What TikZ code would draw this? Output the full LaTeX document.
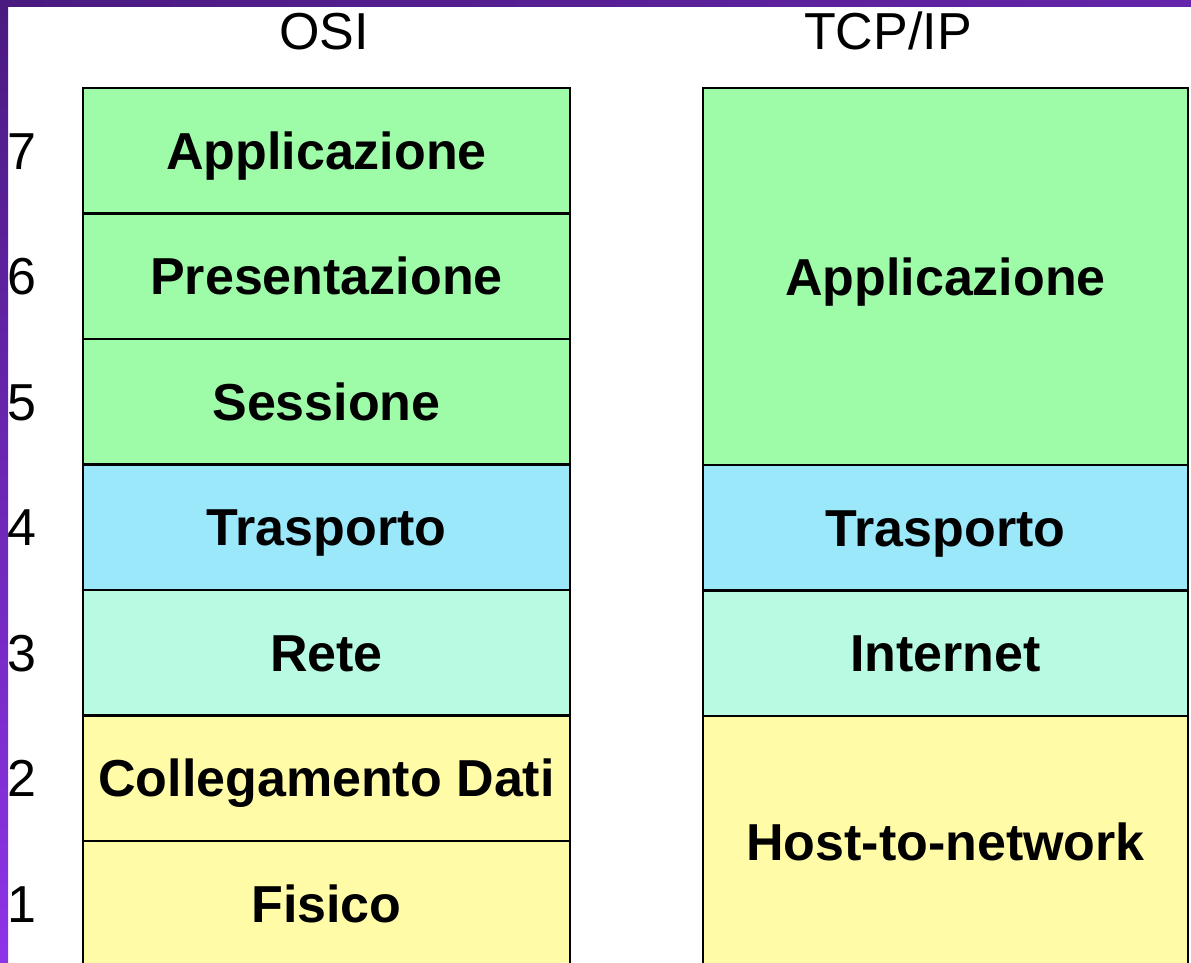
\documentclass[tikz,border=0pt]{standalone}
\usepackage{fontspec}
\setmainfont{Liberation Sans}
\usetikzlibrary{positioning}
\definecolor{verdeapp}{HTML}{9EFBA8}
\definecolor{azzurrotr}{HTML}{9CE8FB}
\definecolor{acquarete}{HTML}{B9FBE2}
\definecolor{gialloh2n}{HTML}{FFFBA7}
\definecolor{violascuro}{HTML}{4A1A80}
\definecolor{violachiaro}{HTML}{8E34E8}
\tikzset{
  strato/.style={draw=black, line width=2.4pt, outer sep=0pt, inner sep=0pt,
    minimum width=487pt, minimum height=125.5pt,
    font=\fontsize{52}{60}\selectfont\bfseries, text height=37pt, text depth=0pt},
  numero/.style={anchor=west, inner sep=0pt, font=\fontsize{52}{60}\selectfont,
    text height=37pt, text depth=0pt},
  titolo/.style={anchor=base, inner sep=0pt, font=\fontsize{52}{60}\selectfont}
}
\begin{document}
\begin{tikzpicture}[x=1pt,y=-1pt]
    \useasboundingbox (0,0) rectangle (1191,963);
    % cornice viola
    \shade[left color=violascuro, right color=violascuro!60!violachiaro] (0,0) rectangle (1191,7);
    \shade[top color=violascuro, bottom color=violachiaro] (0,0) rectangle (8,963);
    % pila OSI
    \node[strato, fill=verdeapp] (osi7) at (326.5,150.75) {Applicazione};
    \node[strato, fill=verdeapp, below=0pt of osi7] (osi6) {Presentazione};
    \node[strato, fill=verdeapp, below=0pt of osi6] (osi5) {Sessione};
    \node[strato, fill=azzurrotr, below=0pt of osi5] (osi4) {Trasporto};
    \node[strato, fill=acquarete, below=0pt of osi4] (osi3) {Rete};
    \node[strato, fill=gialloh2n, below=0pt of osi3] (osi2) {Collegamento Dati};
    \node[strato, fill=gialloh2n, below=0pt of osi2] (osi1) {Fisico};
    \foreach \n in {1,...,7}
        \node[numero] (num\n) at ([xshift=-76pt]osi\n.west) {\n};
    % pila TCP/IP
    \node[strato, fill=verdeapp, minimum width=485pt, minimum height=377pt] (tcpapp) at (945.5,276.5) {Applicazione};
    \node[strato, fill=azzurrotr, minimum width=485pt, below=0pt of tcpapp] (tcptra) {Trasporto};
    \node[strato, fill=acquarete, minimum width=485pt, below=0pt of tcptra] (tcpint) {Internet};
    \node[strato, fill=gialloh2n, minimum width=485pt, minimum height=251pt, below=0pt of tcpint] (tcphost) {Host-to-network};
    % titoli
    \node[titolo] (titosi) at (324,50) {OSI};
    \node[titolo] (tittcp) at (888,50) {TCP/IP};
\end{tikzpicture}
\end{document}
